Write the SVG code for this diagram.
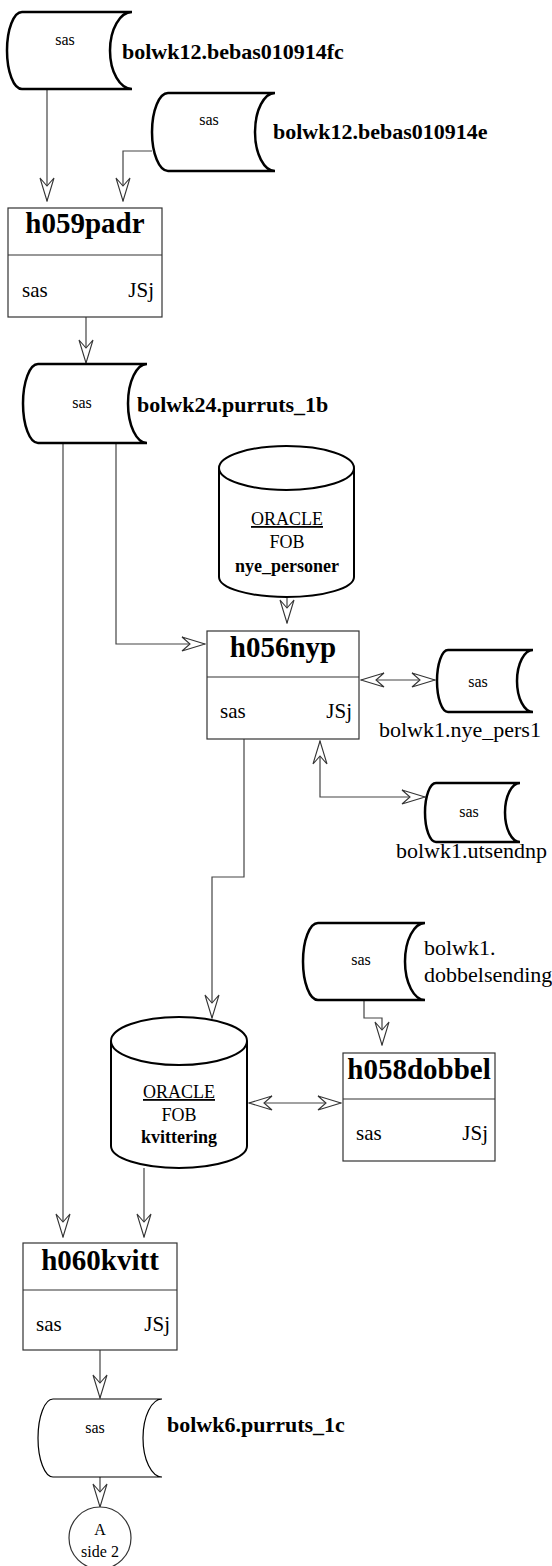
<svg xmlns="http://www.w3.org/2000/svg" width="552" height="1566" viewBox="0 0 552 1566" font-family="'Liberation Serif', Tinos, 'DejaVu Serif', serif">
<style>
.st{fill:#fff;stroke:#000;stroke-width:2.5}
.st6{fill:#fff;stroke:#000;stroke-width:1.2}
.cyl{fill:#fff;stroke:#000;stroke-width:2}
.box{fill:#fff;stroke:#333;stroke-width:1.2}
.div{stroke:#333;stroke-width:1.2}
.con{fill:none;stroke:#444;stroke-width:1.2}
text{font-family:'Liberation Serif', Tinos, 'DejaVu Serif', serif;fill:#000}
.sas{font-size:16px;text-anchor:middle}
.lbl{font-size:22px;font-weight:bold}
.lblr{font-size:22px}
.ttl{font-size:29px;font-weight:bold;text-anchor:middle}
.bt{font-size:21px}
.btr{font-size:21px;text-anchor:end}
.cy{font-size:18px;text-anchor:middle}
.cyb{font-size:18px;font-weight:bold;text-anchor:middle}
.ci{font-size:16px;text-anchor:middle}
</style>
<defs>
<marker id="ar" viewBox="-24 -8 25 16" refX="0" refY="0" markerWidth="25" markerHeight="16" markerUnits="userSpaceOnUse" orient="auto-start-reverse">
<path d="M0,0 L-23,-7 L-15,0 L-23,7 Z" fill="#fff" stroke="#333" stroke-width="1.1" stroke-linejoin="miter"/>
</marker>
</defs>

<g id="connectors">
<path class="con" d="M47,89 V201" marker-end="url(#ar)"/>
<path class="con" d="M152,151 H123 V201" marker-end="url(#ar)"/>
<path class="con" d="M86,317 V363" marker-end="url(#ar)"/>
<path class="con" d="M63,443 V1237" marker-end="url(#ar)"/>
<path class="con" d="M116,443 V644 H205" marker-end="url(#ar)"/>
<path class="con" d="M287,597 V623" marker-end="url(#ar)"/>
<path class="con" d="M361,680 H435" marker-start="url(#ar)" marker-end="url(#ar)"/>
<path class="con" d="M320,741 V797 H425" marker-start="url(#ar)" marker-end="url(#ar)"/>
<path class="con" d="M244,739 V877 H212 V1018" marker-end="url(#ar)"/>
<path class="con" d="M364,1000 V1018 H382 V1045" marker-end="url(#ar)"/>
<path class="con" d="M249,1103 H341" marker-start="url(#ar)" marker-end="url(#ar)"/>
<path class="con" d="M144,1168 V1237" marker-end="url(#ar)"/>
<path class="con" d="M100,1350 V1398" marker-end="url(#ar)"/>
<path class="con" d="M100,1477 V1507" marker-end="url(#ar)"/>
</g>

<g id="s1">
<path class="st" d="M22,12 H132 A22,38.5 0 0 0 132,89 H22 A15,38.5 0 0 1 22,12 Z"/>
<text class="sas" x="65" y="45">sas</text>
<text class="lbl" x="122" y="59">bolwk12.bebas010914fc</text>
</g>

<g id="s2">
<path class="st" d="M168,93 H275 A20,39 0 0 0 275,171 H168 A16,39 0 0 1 168,93 Z"/>
<text class="sas" x="209" y="125">sas</text>
<text class="lbl" x="273" y="139">bolwk12.bebas010914e</text>
</g>

<g id="h059padr">
<rect class="box" x="8" y="208" width="154" height="109"/>
<line class="div" x1="8" y1="255" x2="162" y2="255"/>
<text class="ttl" x="85" y="233">h059padr</text>
<text class="bt" x="22" y="297">sas</text>
<text class="btr" x="154" y="297">JSj</text>
</g>

<g id="s3">
<path class="st" d="M38,364 H147 A19,39.5 0 0 0 147,443 H38 A15,39.5 0 0 1 38,364 Z"/>
<text class="sas" x="82" y="408">sas</text>
<text class="lbl" x="137" y="412">bolwk24.purruts_1b</text>
</g>

<g id="nye_personer">
<path class="cyl" d="M219,468 V577 A67.5,20 0 0 0 354,577 V468"/>
<ellipse class="cyl" cx="286.5" cy="468" rx="67.5" ry="22"/>
<text class="cy" x="287" y="525" text-decoration="underline">ORACLE</text>
<text class="cy" x="287" y="548">FOB</text>
<text class="cyb" x="287" y="572">nye_personer</text>
</g>

<g id="h056nyp">
<rect class="box" x="207" y="631" width="152" height="108"/>
<line class="div" x1="207" y1="677" x2="359" y2="677"/>
<text class="ttl" x="283" y="657">h056nyp</text>
<text class="bt" x="220" y="718">sas</text>
<text class="btr" x="352" y="718">JSj</text>
</g>

<g id="nye_pers1">
<path class="st" d="M448,650 H533 A16,31 0 0 0 533,712 H448 A11,31 0 0 1 448,650 Z"/>
<text class="sas" x="478" y="687">sas</text>
<text class="lblr" x="379" y="737">bolwk1.nye_pers1</text>
</g>

<g id="utsendnp">
<path class="st" d="M436,783 H520 A15,29.5 0 0 0 520,842 H436 A11,29.5 0 0 1 436,783 Z"/>
<text class="sas" x="469" y="817">sas</text>
<text class="lblr" x="396" y="858">bolwk1.utsendnp</text>
</g>

<g id="dobbelsending">
<path class="st" d="M318,923 H425 A20,38.5 0 0 0 425,1000 H318 A15,38.5 0 0 1 318,923 Z"/>
<text class="sas" x="361" y="965">sas</text>
<text class="lblr" x="424" y="955">bolwk1.</text>
<text class="lblr" x="424" y="982">dobbelsending</text>
</g>

<g id="kvittering">
<path class="cyl" d="M111,1041 V1146 A68,22 0 0 0 247,1146 V1041"/>
<ellipse class="cyl" cx="179" cy="1041" rx="68" ry="24"/>
<text class="cy" x="179" y="1098" text-decoration="underline">ORACLE</text>
<text class="cy" x="179" y="1121">FOB</text>
<text class="cyb" x="179" y="1143">kvittering</text>
</g>

<g id="h058dobbel">
<rect class="box" x="343" y="1053" width="152" height="108"/>
<line class="div" x1="343" y1="1099" x2="495" y2="1099"/>
<text class="ttl" x="419" y="1079">h058dobbel</text>
<text class="bt" x="356" y="1140">sas</text>
<text class="btr" x="488" y="1140">JSj</text>
</g>

<g id="h060kvitt">
<rect class="box" x="23" y="1243" width="154" height="107"/>
<line class="div" x1="23" y1="1290" x2="177" y2="1290"/>
<text class="ttl" x="100" y="1270">h060kvitt</text>
<text class="bt" x="36" y="1331">sas</text>
<text class="btr" x="170" y="1331">JSj</text>
</g>

<g id="s6">
<path class="st6" d="M53,1399 H162 A19,39 0 0 0 162,1477 H53 A15,39 0 0 1 53,1399 Z"/>
<text class="sas" x="95" y="1433">sas</text>
<text class="lbl" x="167" y="1432">bolwk6.purruts_1c</text>
</g>

<g id="connector_a">
<circle cx="100" cy="1538" r="31" fill="#fff" stroke="#333" stroke-width="1.2"/>
<text class="ci" x="100" y="1535">A</text>
<text class="ci" x="100" y="1557">side 2</text>
</g>
</svg>
